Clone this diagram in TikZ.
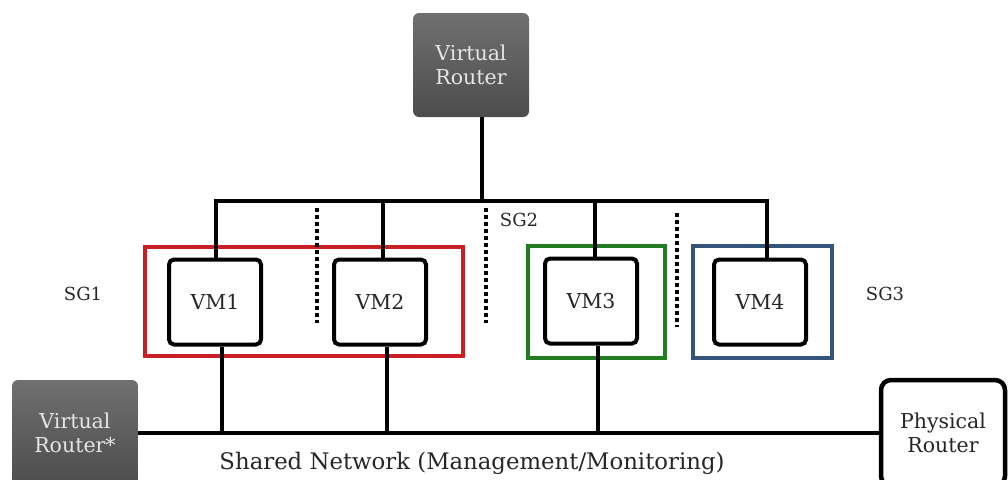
\documentclass[tikz,border=0pt]{standalone}
\usepackage{fontspec}
\setmainfont{DejaVu Serif}
\definecolor{sgred}{RGB}{200,32,38}
\definecolor{sggreen}{RGB}{34,125,34}
\definecolor{sgblue}{RGB}{52,84,122}
\tikzset{
  wire/.style={line width=4pt},
  vmbox/.style={draw,line width=4pt,rounded corners=5pt,fill=white,
    minimum width=92pt,minimum height=85pt,text=black!85,font=\fontsize{20.5}{24}\selectfont},
  vrouter/.style={rounded corners=6pt,top color=black!56,bottom color=black!70,
    text=white!90!black,align=center,font=\fontsize{20.5}{24}\selectfont},
  sgbox/.style={line width=4pt},
  sgdots/.style={line width=3.5pt,dash pattern=on 3.5pt off 3.5pt},
  sglabel/.style={text=black!85,font=\fontsize{18}{20}\selectfont}
}
\begin{document}
\begin{tikzpicture}[x=1pt,y=-1pt]
  \useasboundingbox (0,0) rectangle (1008,479);
  \clip (0,0) rectangle (1008,479);
  % routers
  \node[vrouter,minimum width=116pt,minimum height=104pt] (vr) at (471,65) {Virtual\\Router};
  \node[vrouter,minimum width=126pt,minimum height=106pt] (vrs) at (75,433) {Virtual\\Router*};
  \node[draw,line width=4.5pt,rounded corners=10pt,minimum width=124pt,minimum height=106pt,
    align=center,text=black!85,font=\fontsize{20.5}{24}\selectfont] (pr) at (943,433) {Physical\\Router};
  % security groups
  \draw[sgbox,sgred] (145,247) rectangle (463,356);
  \draw[sgbox,sggreen] (528,246) rectangle (665,358);
  \draw[sgbox,sgblue] (693,246) rectangle (832,358);
  \draw[sgdots] (317,208) -- (317,323);
  \draw[sgdots] (486,208) -- (486,323);
  \draw[sgdots] (677,213) -- (677,327);
  % vms
  \node[vmbox] (vm1) at (215,302) {VM1};
  \node[vmbox] (vm2) at (380,302) {VM2};
  \node[vmbox] (vm3) at (591,301) {VM3};
  \node[vmbox] (vm4) at (760,302) {VM4};
  % links
  \coordinate (hub) at (482,201);
  \draw[wire] (vr.south -| hub) -- (hub);
  \foreach \v/\dx in {vm1/1,vm2/3,vm3/4,vm4/7}
    \draw[wire] ([xshift=\dx pt]\v.north) |- (hub);
  \draw[wire] (vrs.east) -- (pr.west);
  \foreach \v in {vm1,vm2,vm3}
    \draw[wire] ([xshift=7pt]\v.south) |- (pr.west);
  % labels
  \node[sglabel] (sg1) at (83,294) {SG1};
  \node[sglabel] (sg2) at (519,220) {SG2};
  \node[sglabel] (sg3) at (885,294) {SG3};
  \node[text=black!85,font=\fontsize{22.8}{26}\selectfont] (shared) at (472,463)
    {Shared Network (Management/Monitoring)};
\end{tikzpicture}
\end{document}
